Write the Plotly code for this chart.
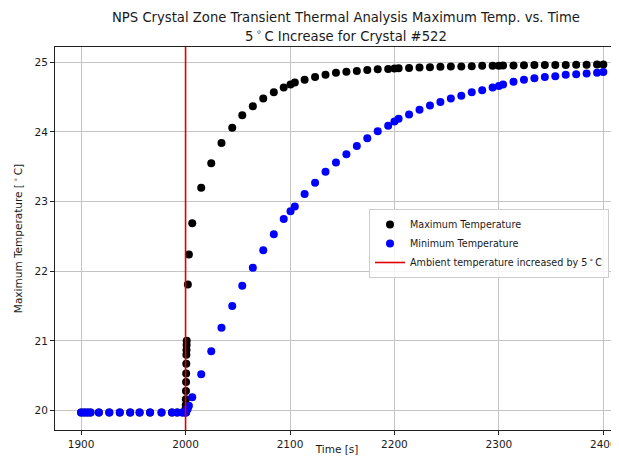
import plotly.graph_objects as go

# ---------------- data ----------------
time_s = [
    1900, 1903, 1906, 1909, 1917, 1927, 1937, 1947, 1956, 1966, 1977, 1987, 1992, 1997,
    2000.0, 2000.1, 2000.2, 2000.3, 2000.4, 2000.5, 2000.6, 2000.7, 2000.8, 2000.9, 2001.0, 2001.1,
    2002.2, 2003.2, 2006.4,
    2015, 2024.6, 2034.4, 2044.7, 2054.3, 2064.4, 2074.4, 2084.5, 2094,
    2100.5, 2104.6, 2114, 2124, 2134, 2144, 2154, 2164, 2174, 2184, 2194,
    2200, 2204, 2214, 2224, 2234, 2244, 2254, 2264, 2274, 2284, 2294,
    2300, 2304, 2314, 2324, 2334, 2344, 2354, 2364, 2374, 2384, 2394, 2400,
]

max_temp = [
    19.97, 19.97, 19.97, 19.97, 19.97, 19.97, 19.97, 19.97, 19.97, 19.97, 19.97, 19.97, 19.97, 19.97,
    19.99, 20.03, 20.08, 20.16, 20.28, 20.41, 20.53, 20.67, 20.80, 20.87, 20.94, 21.00,
    21.81, 22.24, 22.69,
    23.20, 23.55, 23.84, 24.06, 24.24, 24.37, 24.48, 24.57, 24.64,
    24.68, 24.71, 24.75, 24.79, 24.82, 24.85, 24.865, 24.875, 24.89, 24.90, 24.905,
    24.91, 24.915, 24.92, 24.925, 24.93, 24.935, 24.94, 24.94, 24.945, 24.95, 24.95,
    24.952, 24.953, 24.955, 24.957, 24.96, 24.96, 24.962, 24.963, 24.965, 24.966, 24.967, 24.968,
]

min_temp = [
    19.97, 19.97, 19.97, 19.97, 19.97, 19.97, 19.97, 19.97, 19.97, 19.97, 19.97, 19.97, 19.97, 19.97,
    19.97, 19.97, 19.97, 19.98, 19.98, 19.98, 19.99, 19.99, 20.00, 20.00, 20.01, 20.01,
    20.03, 20.07, 20.19,
    20.52, 20.85, 21.19, 21.50, 21.79, 22.05, 22.30, 22.53, 22.75,
    22.86, 22.93, 23.11, 23.27, 23.43, 23.56, 23.68, 23.80, 23.91, 24.01, 24.09,
    24.15, 24.19, 24.25, 24.32, 24.38, 24.43, 24.48, 24.52, 24.57, 24.60, 24.64,
    24.66, 24.68, 24.72, 24.75, 24.77, 24.79, 24.80, 24.82, 24.83, 24.84, 24.85, 24.86,
]

ambient_change_time = 2000

series_names = ["Maximum Temperature", "Minimum Temperature",
                "Ambient temperature increased by 5\u2009<sup>∘</sup>\u2009C"]

x_ticks = [1900, 2000, 2100, 2200, 2300, 2400]
y_ticks = [20, 21, 22, 23, 24, 25]

# ---------------- layout constants ----------------
# The page body has an 8px margin, so the figure is sized to fit the window
# without scrollbars and every reference pixel position is shifted by OFF.
OFF = 8
W, H = 619 - OFF, 463 - 2 * OFF
ML, MT = 55 - OFF, 47 - OFF
MB = H - (430 - OFF)
MR = 0
X_RANGE = [1875, 2415]
Y_RANGE = [19.72, 25.22]
FONT = "DejaVu Sans"
TXT = "#1a1a1a"

plot_h = H - MT - MB
plot_w = W - ML - MR


def py(ref_y):
    """reference pixel y -> paper y"""
    return (H - MB - (ref_y - OFF)) / plot_h


def px(ref_x):
    """reference pixel x -> paper x"""
    return (ref_x - OFF - ML) / plot_w


fig = go.Figure()

fig.add_trace(go.Scatter(
    x=time_s, y=max_temp, mode="markers", name=series_names[0],
    marker=dict(color="#000000", size=8, line=dict(width=0)),
))
fig.add_trace(go.Scatter(
    x=time_s, y=min_temp, mode="markers", name=series_names[1],
    marker=dict(color="#0000ff", size=8, line=dict(width=0)),
))
fig.add_trace(go.Scatter(
    x=[ambient_change_time, ambient_change_time], y=Y_RANGE, mode="lines",
    name=series_names[2], line=dict(color="#e00000", width=1.6),
))

axis_common = dict(
    showgrid=True, gridcolor="#c4c4c4", gridwidth=1,
    zeroline=False, showline=True, linecolor="#222222", linewidth=1,
    ticks="outside", ticklen=4, tickwidth=1, tickcolor="#222222",
    tickfont=dict(family=FONT, size=10.5, color=TXT),
)

fig.update_xaxes(
    range=X_RANGE, tickvals=x_ticks, mirror=True,
    title=dict(text="Time [s]", font=dict(family=FONT, size=10.5, color=TXT), standoff=9),
    **axis_common,
)
fig.update_yaxes(
    range=Y_RANGE, tickvals=y_ticks, mirror=False,
    title=dict(text="Maximum Temperature [\u2009<sup>∘</sup>\u2009C]",
               font=dict(family=FONT, size=10.5, color=TXT), standoff=9),
    **axis_common,
)

title_x = px(346)
fig.add_annotation(
    text="NPS Crystal Zone Transient Thermal Analysis Maximum Temp. vs. Time",
    xref="paper", yref="paper", x=title_x, y=py(17),
    xanchor="center", yanchor="middle", showarrow=False,
    font=dict(family=FONT, size=13.2, color=TXT),
)
fig.add_annotation(
    text="5\u2009<sup>∘</sup>\u2009C Increase for Crystal #522",
    xref="paper", yref="paper", x=title_x, y=py(35),
    xanchor="center", yanchor="middle", showarrow=False,
    font=dict(family=FONT, size=13.2, color=TXT),
)

fig.update_layout(
    width=W, height=H,
    margin=dict(l=ML, r=MR, t=MT, b=MB, autoexpand=False),
    paper_bgcolor="white", plot_bgcolor="white",
    font=dict(family=FONT, size=10.5, color=TXT),
    showlegend=True,
    legend=dict(
        x=px(369), y=py(209),
        xanchor="left", yanchor="top",
        bgcolor="rgba(255,255,255,0.85)", bordercolor="#cccccc", borderwidth=1,
        font=dict(family=FONT, size=9.6, color=TXT),
        tracegroupgap=0, itemwidth=30,
    ),
)

fig.write_html("out.html")
